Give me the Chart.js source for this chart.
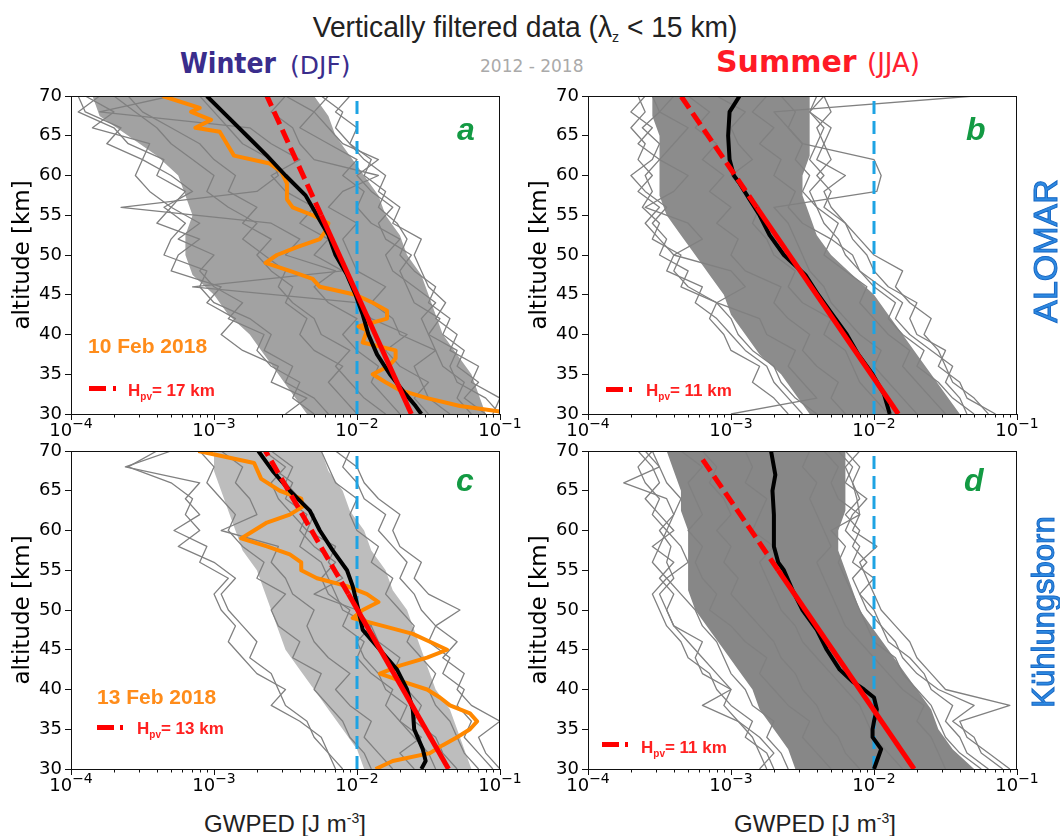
<!DOCTYPE html>
<html>
<head>
<meta charset="utf-8">
<script src="https://cdn.jsdelivr.net/npm/chart.js@4.4.1/dist/chart.umd.min.js"></script>
<style>
  body { margin: 0; background: #fff; }
  #fig { position: relative; width: 1060px; height: 836px; overflow: hidden; }
  canvas { position: absolute; }
  .t { position: absolute; white-space: nowrap; line-height: 1; z-index: 2; }
  .lib { font-family: "Liberation Sans", Arial, sans-serif; }
  .dv { font-family: "DejaVu Sans", sans-serif; }
  .dvc { font-family: "DejaVu Sans Condensed", "DejaVu Sans", sans-serif; }
  .letter { font: italic bold 32px "Liberation Sans", Arial, sans-serif; color: #139a43; }
  .date { font: bold 21px "Liberation Sans", Arial, sans-serif; color: #ff8c1a; }
  .hpv { font: bold 17px "Liberation Sans", Arial, sans-serif; color: #ff2020; }
  .hpv sub { font-size: 10px; vertical-align: -4px; }
  .bar { position: absolute; background: #ff0000; height: 5px; z-index: 2; }
  .xl { font: 24px "Liberation Sans", Arial, sans-serif; color: #222; }
  .xl sup { font-size: 14px; vertical-align: 9px; }
  .site { font-family: "Liberation Sans", Arial, sans-serif; color: #2e8ae2; -webkit-text-stroke: 1px #1667c4;
          transform: translate(-50%, -50%) rotate(-90deg); }
</style>
</head>
<body>
<div id="fig">
  <canvas id="pa" width="530" height="372" style="left:0;top:82px"></canvas>
  <canvas id="pb" width="530" height="372" style="left:517px;top:82px"></canvas>
  <canvas id="pc" width="530" height="372" style="left:0;top:437px"></canvas>
  <canvas id="pd" width="530" height="372" style="left:517px;top:437px"></canvas>

  <div class="t lib" style="left:525px;top:12px;font-size:30px;color:#222;transform:translateX(-50%) scaleX(0.94)">Vertically filtered data (&lambda;<sub style="font-size:15px;vertical-align:-5px">z</sub> &lt; 15 km)</div>
  <div class="t dvc" style="left:180px;top:50px;font-size:28px;font-weight:bold;color:#3a2d8c">Winter</div>
  <div class="t dv" style="left:290px;top:53px;font-size:25px;color:#3a2d8c">(DJF)</div>
  <div class="t dv" style="left:480px;top:58px;font-size:17px;color:#aaaaaa">2012 - 2018</div>
  <div class="t dv" style="left:716px;top:47px;font-size:30px;font-weight:bold;color:#ff1a25">Summer</div>
  <div class="t dv" style="left:867px;top:50px;font-size:26px;color:#ff2030">(JJA)</div>

  <div class="t letter" style="left:457px;top:111px">a</div>
  <div class="t letter" style="left:966px;top:111px">b</div>
  <div class="t letter" style="left:456px;top:462px">c</div>
  <div class="t letter" style="left:964px;top:462px">d</div>

  <div class="t date" style="left:88px;top:334px">10 Feb 2018</div>
  <div class="t date" style="left:97px;top:685px">13 Feb 2018</div>

  <div class="bar" style="left:89px;top:386px;width:17px"></div>
  <div class="bar" style="left:113px;top:386px;width:3px"></div>
  <div class="t hpv" style="left:128px;top:381px">H<sub>pv</sub>= 17 km</div>
  <div class="bar" style="left:606px;top:387px;width:17px"></div>
  <div class="bar" style="left:629px;top:387px;width:3px"></div>
  <div class="t hpv" style="left:646px;top:381px">H<sub>pv</sub>= 11 km</div>
  <div class="bar" style="left:97px;top:725px;width:17px"></div>
  <div class="bar" style="left:120px;top:725px;width:3px"></div>
  <div class="t hpv" style="left:137px;top:719px">H<sub>pv</sub>= 13 km</div>
  <div class="bar" style="left:602px;top:742px;width:17px"></div>
  <div class="bar" style="left:625px;top:742px;width:3px"></div>
  <div class="t hpv" style="left:641px;top:738px">H<sub>pv</sub>= 11 km</div>

  <div class="t xl" style="left:285px;top:810px;transform:translateX(-50%)">GWPED [J m<sup>-3</sup>]</div>
  <div class="t xl" style="left:815px;top:810px;transform:translateX(-50%)">GWPED [J m<sup>-3</sup>]</div>

  <div class="t site" style="left:1045px;top:251px;font-size:34px">ALOMAR</div>
  <div class="t site" style="left:1043px;top:612px;font-size:31px">Kühlungsborn</div>
</div>

<script>
// GWPED values below are log10 exponents, i.e. 10^v J m^-3
const alt = [30, 32, 34, 36, 38, 40, 42, 44, 46, 48, 50, 52, 54, 56, 58, 60, 62, 64, 66, 68, 70];
const altCore = [30, 32.5, 35, 37.5, 40, 42.5, 45, 47.5, 50, 52.5, 55, 57.5, 60, 62.5, 65, 67.5, 70];
const refLevel = 1e-2;

// --- a: winter ALOMAR
const coreA_left  = [-2.35, -2.45, -2.55, -2.65, -2.75, -2.9, -3.0, -3.15, -3.2, -3.2, -3.15, -3.2, -3.25, -3.4, -3.6, -3.8, -3.85];
const coreA_right = [-1.1, -1.15, -1.2, -1.3, -1.4, -1.45, -1.5, -1.55, -1.65, -1.7, -1.8, -1.85, -1.95, -2.05, -2.15, -2.2, -2.3];
const profilesA = [
  [-1.2, -1.3, -1.25, -1.4, -1.45, -1.5, -1.42, -1.6, -1.65, -1.7, -1.62, -1.8, -1.85, -1.75, -1.9, -2.0, -1.85, -2.1, -2.2, -2.3, -2.2],
  [-2.3, -2.45, -2.4, -2.6, -2.7, -2.65, -2.9, -2.8, -3.0, -3.1, -3.0, -3.25, -3.1, -3.3, -3.2, -3.4, -3.35, -3.6, -3.7, -3.95, -3.8],
  [-1.7, -1.8, -1.9, -1.85, -2.0, -2.1, -2.0, -2.2, -2.3, -2.15, -2.5, -2.4, -2.6, -3.65, -2.7, -2.55, -2.6, -2.8, -2.9, -3.0, -3.1],
  [-1.0, -1.1, -1.3, -1.35, -1.3, -1.5, -1.55, -1.45, -1.6, -1.75, -1.8, -1.7, -1.9, -2.0, -1.95, -2.1, -2.0, -2.2, -2.4, -2.3, -2.5],
  [-2.0, -2.1, -2.2, -2.1, -2.3, -2.4, -2.35, -2.5, -2.45, -2.6, -2.7, -2.6, -2.8, -2.7, -2.9, -2.85, -3.0, -3.1, -3.3, -3.5, -3.6],
  [-1.5, -1.6, -1.5, -1.7, -1.8, -1.65, -1.9, -2.0, -3.15, -2.1, -2.3, -2.2, -2.4, -2.3, -2.5, -2.6, -2.4, -2.6, -2.75, -3.8, -3.3],
  [-1.35, -1.5, -1.55, -1.6, -1.45, -1.7, -1.75, -1.9, -1.8, -2.0, -2.05, -2.1, -2.0, -2.2, -2.1, -1.85, -2.3, -2.4, -2.45, -2.6, -2.5],
  [-1.8, -1.95, -2.05, -2.15, -2.05, -2.25, -2.3, -2.45, -2.55, -2.5, -2.65, -2.8, -2.7, -2.9, -3.05, -3.0, -3.15, -3.3, -3.4, -3.55, -3.7],
  [-2.5, -2.35, -2.6, -2.55, -2.8, -2.95, -2.85, -3.05, -2.95, -3.3, -3.25, -3.1, -3.4, -3.3, -3.45, -3.55, -3.5, -3.75, -3.65, -3.9, -3.95],
  [-2.2, -2.3, -2.5, -2.45, -2.65, -2.6, -2.75, -3.0, -3.1, -3.05, -3.35, -3.3, -3.2, -3.35, -3.15, -3.3, -3.5, -3.45, -3.85, -3.7, -3.9],
  [-1.05, -1.0, -1.2, -1.15, -1.35, -1.3, -1.45, -1.38, -1.5, -1.55, -1.6, -1.55, -1.75, -1.7, -1.85, -1.8, -1.95, -2.05, -2.0, -2.15, -2.05],
  [-1.1, -1.25, -1.15, -1.3, -1.25, -1.4, -1.35, -1.5, -1.45, -1.6, -1.7, -1.65, -1.72, -1.85, -1.8, -1.95, -1.9, -2.05, -2.15, -2.1, -2.25]
];
const meanA_alt = [30, 31, 32.5, 35, 37.5, 40, 42.5, 45, 47.5, 50, 52.5, 55, 57.5, 60, 62.5, 65, 67.5, 70];
const meanA = [-1.55, -1.59, -1.66, -1.77, -1.86, -1.92, -1.96, -2.01, -2.07, -2.15, -2.2, -2.28, -2.36, -2.5, -2.63, -2.77, -2.91, -3.05];
const fitA_alt = [30, 55, 70];
const fitA = [-1.62, -2.25, -2.63];
const orangeA_alt = [70, 68.5, 68, 67, 66, 65.5, 64, 62.5, 61.5, 60.5, 59, 57, 56, 55, 54, 53, 52, 51, 50, 49,
                     48, 47, 46, 45, 44, 43, 42, 41, 40.5, 39, 38, 37, 36, 35, 34, 33, 32, 31, 30.3];
const orangeA = [-3.36, -3.1, -3.16, -3.02, -3.13, -2.96, -2.91, -2.86, -2.61, -2.53, -2.49, -2.49, -2.45, -2.31, -2.2, -2.22, -2.26, -2.42, -2.56, -2.64,
                 -2.47, -2.31, -2.26, -2.01, -1.89, -1.79, -1.79, -1.99, -1.93, -1.96, -1.73, -1.73, -1.78, -1.89, -1.8, -1.7, -1.51, -1.28, -1.0];

// --- b: summer ALOMAR
const coreB_left  = [-2.45, -2.55, -2.65, -2.8, -2.9, -3.0, -3.05, -3.15, -3.25, -3.35, -3.45, -3.5, -3.5, -3.5, -3.5, -3.55, -3.55];
const coreB_right = [-1.4, -1.5, -1.6, -1.7, -1.8, -1.9, -2.0, -2.15, -2.3, -2.4, -2.45, -2.5, -2.5, -2.45, -2.45, -2.45, -2.45];
const profilesB = [
  [-1.2, -1.3, -1.45, -1.5, -1.55, -1.65, -1.6, -1.75, -1.85, -1.8, -2.0, -2.1, -2.2, -2.3, -2.35, -2.2, -2.4, -2.35, -2.3, -2.45, -2.35],
  [-2.6, -2.7, -2.85, -2.8, -3.0, -3.05, -3.15, -3.1, -3.3, -3.4, -3.35, -3.55, -3.5, -3.62, -3.55, -3.6, -3.5, -3.65, -3.55, -3.7, -3.6],
  [-1.7, -1.8, -1.9, -2.0, -1.95, -2.1, -2.2, -2.3, -2.35, -2.45, -2.5, -2.55, -2.6, -2.7, -1.98, -1.95, -2.0, -2.5, -2.6, -2.7, -1.3],
  [-2.2, -2.3, -2.25, -2.4, -2.5, -2.45, -2.6, -2.7, -2.65, -2.9, -3.0, -2.95, -3.1, -3.0, -3.15, -3.05, -3.2, -3.1, -3.25, -3.15, -3.3],
  [-1.5, -1.6, -1.7, -1.8, -1.75, -1.9, -2.0, -2.1, -2.05, -2.2, -2.35, -2.3, -2.5, -2.6, -2.55, -2.7, -2.65, -2.8, -2.7, -2.85, -2.75],
  [-3.0, -2.4, -2.5, -2.6, -2.55, -2.75, -2.8, -3.1, -2.9, -3.0, -3.4, -3.2, -3.3, -3.6, -3.4, -3.3, -3.5, -3.4, -3.3, -3.5, -3.4],
  [-1.9, -2.0, -2.1, -2.15, -2.2, -2.35, -2.3, -2.5, -2.6, -2.55, -2.7, -2.75, -2.85, -2.8, -2.9, -3.0, -2.85, -2.95, -3.0, -2.9, -3.1],
  [-1.3, -1.45, -1.55, -1.7, -1.65, -1.8, -1.9, -1.85, -2.0, -2.1, -2.2, -2.25, -2.35, -2.4, -2.5, -2.45, -2.55, -2.5, -2.6, -2.55, -2.65],
  [-2.5, -2.6, -2.7, -2.75, -2.9, -3.0, -3.1, -3.25, -3.2, -3.45, -3.4, -3.5, -3.6, -3.5, -3.65, -3.55, -3.65, -3.6, -3.7, -3.6, -3.65],
  [-2.4, -2.55, -2.65, -2.7, -2.85, -2.95, -3.0, -3.1, -3.35, -3.3, -3.5, -3.45, -3.55, -3.45, -3.6, -3.7, -3.55, -3.5, -3.62, -3.5, -3.55],
  [-1.15, -1.35, -1.4, -1.55, -1.5, -1.7, -1.75, -1.7, -1.9, -2.0, -2.05, -2.15, -2.2, -2.35, -2.3, -2.4, -2.3, -2.35, -2.4, -2.3, -2.35],
  [-1.35, -1.4, -1.5, -1.45, -1.6, -1.75, -1.85, -1.8, -1.95, -2.1, -2.15, -2.3, -2.25, -2.4, -2.45, -2.35, -2.45, -2.4, -2.35, -2.45, -2.4]
];
const meanB_alt = [30, 32.5, 35, 37.5, 40, 42.5, 45, 47.5, 50, 52.5, 55, 57, 59, 60, 62, 65, 68, 70];
const meanB = [-1.89, -1.93, -2.01, -2.11, -2.19, -2.29, -2.39, -2.48, -2.63, -2.73, -2.8, -2.87, -2.94, -2.98, -3.01, -3.02, -3.01, -2.94];
const fitB_alt = [30, 56, 70];
const fitB = [-1.83, -2.82, -3.35];

// --- c: winter Kuehlungsborn
const coreC_left  = [-1.95, -2.0, -2.1, -2.2, -2.3, -2.4, -2.5, -2.55, -2.6, -2.65, -2.7, -2.8, -2.85, -2.9, -2.95, -3.0, -3.0];
const coreC_right = [-1.2, -1.25, -1.3, -1.35, -1.45, -1.5, -1.55, -1.6, -1.65, -1.75, -1.8, -1.9, -1.95, -2.05, -2.1, -2.2, -2.25];
const profilesC = [
  [-1.0, -1.1, -1.15, -1.0, -1.2, -1.3, -1.25, -1.4, -1.3, -1.45, -1.28, -1.5, -1.6, -1.55, -1.7, -1.75, -1.7, -1.85, -1.95, -2.0, -2.15],
  [-2.15, -2.2, -2.3, -2.35, -2.5, -2.55, -2.6, -2.75, -2.7, -2.8, -2.9, -2.95, -2.85, -3.0, -3.25, -3.1, -3.2, -3.15, -3.3, -3.6, -3.4],
  [-1.6, -1.7, -1.55, -1.7, -1.8, -1.75, -1.9, -2.0, -1.95, -2.1, -2.05, -2.2, -2.25, -2.15, -2.3, -2.4, -2.35, -2.5, -2.45, -2.6, -2.7],
  [-1.3, -1.4, -1.45, -1.6, -1.55, -1.65, -1.75, -1.7, -1.85, -1.9, -2.0, -2.3, -2.1, -2.2, -2.15, -2.35, -2.3, -2.4, -2.5, -2.45, -2.6],
  [-1.9, -1.95, -2.05, -2.1, -2.2, -2.3, -2.25, -2.45, -2.4, -2.55, -2.6, -2.5, -2.7, -2.65, -2.8, -2.9, -2.85, -2.95, -3.05, -3.0, -3.1],
  [-1.15, -1.25, -1.3, -1.35, -1.45, -1.5, -1.45, -1.55, -1.65, -1.6, -1.7, -1.8, -1.75, -1.9, -1.85, -2.0, -2.05, -2.0, -2.15, -2.2, -2.25],
  [-1.75, -1.85, -1.95, -1.9, -2.05, -2.15, -2.05, -2.2, -2.3, -2.35, -2.3, -2.45, -2.5, -2.6, -2.55, -2.95, -2.7, -2.75, -2.85, -2.8, -2.95],
  [-1.45, -1.5, -1.6, -1.7, -1.65, -1.8, -1.85, -1.95, -2.0, -1.9, -2.1, -2.15, -2.2, -2.25, -2.4, -2.35, -2.45, -2.55, -2.6, -2.5, -2.65],
  [-2.1, -2.2, -2.25, -2.4, -2.6, -2.5, -2.7, -2.8, -2.9, -2.85, -2.95, -3.0, -2.9, -3.1, -3.05, -3.28, -3.1, -3.2, -3.1, -3.62, -3.3],
  [-1.05, -1.15, -1.25, -1.2, -1.3, -1.25, -1.4, -1.35, -1.5, -1.45, -1.55, -1.6, -1.7, -1.65, -1.75, -1.85, -1.8, -1.95, -2.0, -2.1, -2.05]
];
const meanC_alt = [30, 31, 32.5, 35, 37.5, 40, 42.5, 45, 47.5, 50, 53, 55, 57.5, 60, 62.5, 65, 67.5, 70];
const meanC = [-1.55, -1.52, -1.54, -1.6, -1.61, -1.65, -1.72, -1.84, -1.96, -1.99, -2.03, -2.07, -2.17, -2.26, -2.33, -2.47, -2.59, -2.69];
const fitC_alt = [30, 52, 70];
const fitC = [-1.36, -2.06, -2.64];
const orangeC_alt = [70, 68.5, 66.5, 65, 64, 63, 62, 61, 60, 59, 58, 57, 56, 55, 54, 53, 52, 51, 50, 49,
                     48, 47, 46, 45, 44, 43, 42, 41, 40, 39, 38, 37, 36, 35, 34, 33, 32, 31, 30];
const orangeC = [-3.11, -2.72, -2.67, -2.54, -2.39, -2.38, -2.47, -2.63, -2.72, -2.81, -2.63, -2.47, -2.39, -2.39, -2.28, -2.07, -1.93, -1.85, -1.96, -2.03,
                 -1.82, -1.61, -1.49, -1.37, -1.51, -1.7, -1.84, -1.68, -1.51, -1.42, -1.35, -1.21, -1.16, -1.21, -1.3, -1.4, -1.49, -1.75, -1.87];

// --- d: summer Kuehlungsborn
const coreD_left  = [-2.55, -2.6, -2.7, -2.8, -2.85, -2.95, -3.05, -3.15, -3.25, -3.3, -3.3, -3.3, -3.3, -3.35, -3.35, -3.4, -3.45];
const coreD_right = [-1.3, -1.45, -1.55, -1.6, -1.7, -1.8, -1.9, -2.0, -2.1, -2.15, -2.2, -2.25, -2.25, -2.2, -2.2, -2.2, -2.2];
const profilesD = [
  [-1.05, -1.2, -1.35, -1.4, -1.05, -1.5, -1.6, -1.7, -1.75, -1.85, -1.95, -2.0, -2.05, -2.1, -1.98, -2.15, -2.1, -2.12, -2.15, -2.1, -2.2],
  [-2.75, -2.8, -2.85, -2.95, -3.2, -3.0, -3.1, -3.2, -3.3, -3.4, -3.45, -3.5, -3.4, -3.45, -3.42, -3.5, -3.4, -3.45, -3.75, -3.5, -3.6],
  [-1.5, -1.55, -1.6, -1.7, -1.65, -1.8, -1.9, -2.0, -2.1, -2.2, -2.25, -2.3, -2.35, -2.4, -2.3, -2.35, -2.4, -2.45, -2.4, -2.5, -2.45],
  [-2.3, -2.4, -2.5, -2.45, -2.6, -2.7, -2.8, -2.75, -2.9, -3.0, -3.15, -3.1, -3.2, -3.25, -3.2, -3.3, -3.2, -3.25, -3.3, -3.2, -3.35],
  [-1.8, -1.9, -2.0, -2.05, -2.1, -2.2, -2.3, -2.4, -2.5, -2.55, -2.65, -2.7, -2.75, -2.8, -2.7, -2.85, -2.8, -2.75, -2.9, -2.85, -2.9],
  [-1.25, -1.4, -1.5, -1.55, -1.6, -1.7, -1.8, -1.85, -2.0, -2.05, -2.1, -2.15, -2.2, -2.25, -2.2, -2.3, -2.1, -2.25, -2.3, -2.25, -2.35],
  [-2.1, -2.2, -2.25, -2.35, -2.4, -2.5, -2.55, -2.65, -2.7, -2.8, -2.9, -3.0, -2.95, -3.05, -3.0, -3.1, -3.0, -3.05, -3.15, -3.1, -3.2],
  [-2.6, -2.65, -2.75, -2.7, -2.85, -2.9, -3.0, -3.05, -3.1, -3.2, -3.25, -3.35, -3.45, -3.3, -3.35, -3.45, -3.4, -3.35, -3.45, -3.5, -3.55],
  [-2.7, -2.75, -2.9, -2.85, -3.0, -3.1, -3.15, -3.3, -3.35, -3.45, -3.5, -3.55, -3.45, -3.55, -3.5, -3.45, -3.55, -3.5, -3.6, -3.65, -3.55],
  [-2.8, -2.7, -2.8, -2.95, -3.05, -3.0, -3.2, -3.25, -3.2, -3.4, -3.45, -3.4, -3.5, -3.4, -3.55, -3.4, -3.5, -3.6, -3.5, -3.55, -3.65],
  [-1.1, -1.25, -1.3, -1.45, -1.3, -1.55, -1.7, -1.8, -1.85, -1.95, -2.0, -2.1, -2.15, -2.05, -2.15, -2.1, -2.2, -2.1, -2.15, -2.2, -2.1],
  [-1.2, -1.35, -1.4, -1.5, -1.45, -1.6, -1.65, -1.75, -1.9, -1.95, -2.05, -2.1, -2.0, -2.15, -2.1, -2.2, -2.15, -2.05, -2.2, -2.15, -2.25]
];
const meanD_alt = [30, 31, 32.5, 34, 35, 36, 37.5, 39, 40, 41, 42.5, 45, 47.5, 50, 52.5, 55, 56, 58, 60, 62, 65, 67, 70];
const meanD = [-2.0, -1.98, -1.95, -2.01, -2.01, -2.0, -1.98, -2.0, -2.07, -2.15, -2.24, -2.33, -2.4, -2.5, -2.57, -2.63, -2.67, -2.7, -2.7, -2.7, -2.71, -2.69, -2.72];
const fitD_alt = [30, 55, 69.5];
const fitD = [-1.72, -2.67, -3.22];

Chart.defaults.font.family = '"DejaVu Sans", sans-serif';
Chart.defaults.color = '#000';

function pts(alts, logs) {
  return alts.map((h, i) => ({ x: Math.pow(10, logs[i]), y: h }));
}

// frame, log ticks and 10^n labels, matplotlib style
const axesExtras = {
  id: 'axesExtras',
  afterDraw(chart) {
    const { ctx, chartArea: a, scales: { x } } = chart;
    ctx.save();
    ctx.strokeStyle = '#111';
    ctx.lineWidth = 1;
    ctx.strokeRect(a.left + 0.5, a.top + 0.5, a.width - 1, a.height);
    for (let p = -4; p <= -1; p++) {
      for (let k = 1; k <= 9; k++) {
        if (p === -1 && k > 1) break;
        const px = Math.round(x.getPixelForValue(k * Math.pow(10, p))) + 0.5;
        ctx.beginPath();
        ctx.moveTo(px, a.bottom);
        ctx.lineTo(px, a.bottom + (k === 1 ? 6 : 3.5));
        ctx.stroke();
      }
      const cx = x.getPixelForValue(Math.pow(10, p));
      ctx.font = '18px "DejaVu Sans"';
      const w1 = ctx.measureText('10').width;
      ctx.font = '14px "DejaVu Sans"';
      const exp = '\u2212' + Math.abs(p);
      const w2 = ctx.measureText(exp).width;
      const x0 = cx - (w1 + w2) / 2;
      ctx.fillStyle = '#000';
      ctx.textBaseline = 'alphabetic';
      ctx.textAlign = 'left';
      ctx.font = '18px "DejaVu Sans"';
      ctx.fillText('10', x0, a.bottom + 22);
      ctx.font = '14px "DejaVu Sans"';
      ctx.fillText(exp, x0 + w1, a.bottom + 14);
    }
    ctx.restore();
  }
};

function panel(id, o) {
  const ds = [];
  ds.push({
    data: pts(altCore.concat(altCore.slice().reverse()), o.coreL.concat(o.coreR.slice().reverse())),
    fill: 'shape', backgroundColor: o.coreColor, borderWidth: 0, order: 100
  });
  o.profiles.forEach((p) => {
    ds.push({ data: pts(alt, p), borderColor: '#808080', borderWidth: 1.3, order: 50 });
  });
  ds.push({
    data: [{ x: refLevel, y: 30 }, { x: refLevel, y: 70 }],
    borderColor: '#1ea3e3', borderWidth: 3, borderDash: [13, 7], order: 4
  });
  if (o.orangeAlt) {
    ds.push({ data: pts(o.orangeAlt, o.orange), borderColor: '#ff8800', borderWidth: 4, order: 3 });
  }
  ds.push({ data: pts(o.meanAlt, o.mean), borderColor: '#000', borderWidth: 4, order: 2 });
  ds.push({
    data: pts(o.fitAlt, o.fit), borderColor: '#ff0000', borderWidth: 5, order: 1,
    segment: { borderDash: (c) => (c.p0DataIndex >= 1 ? [14, 6] : undefined) }
  });

  new Chart(document.getElementById(id), {
    type: 'line',
    data: { datasets: ds },
    options: {
      responsive: false,
      animation: false,
      events: [],
      devicePixelRatio: 1,
      layout: { padding: { top: 14, right: 30, left: 0, bottom: 0 } },
      elements: {
        point: { radius: 0 },
        line: { borderJoinStyle: 'round', tension: 0 }
      },
      plugins: { legend: { display: false }, tooltip: { enabled: false } },
      scales: {
        x: {
          type: 'logarithmic', min: 1e-4, max: 1e-1,
          ticks: { display: false },
          grid: { display: false },
          border: { display: false },
          afterFit: (s) => { s.height = 40; }
        },
        y: {
          type: 'linear', min: 30, max: 70,
          ticks: { stepSize: 5, padding: 3, font: { size: 18 }, color: '#000' },
          grid: { drawOnChartArea: false, tickLength: 6, color: '#111' },
          border: { display: false },
          title: { display: true, text: 'altitude [km]', font: { size: 23 }, color: '#000', padding: { top: 9, bottom: 0 } },
          afterFit: (s) => { s.width = 71; }
        }
      }
    },
    plugins: [axesExtras]
  });
}

panel('pa', { coreL: coreA_left, coreR: coreA_right, coreColor: '#a2a2a2', profiles: profilesA,
  meanAlt: meanA_alt, mean: meanA, fitAlt: fitA_alt, fit: fitA, orangeAlt: orangeA_alt, orange: orangeA });
panel('pb', { coreL: coreB_left, coreR: coreB_right, coreColor: '#8c8c8c', profiles: profilesB,
  meanAlt: meanB_alt, mean: meanB, fitAlt: fitB_alt, fit: fitB });
panel('pc', { coreL: coreC_left, coreR: coreC_right, coreColor: '#bdbdbd', profiles: profilesC,
  meanAlt: meanC_alt, mean: meanC, fitAlt: fitC_alt, fit: fitC, orangeAlt: orangeC_alt, orange: orangeC });
panel('pd', { coreL: coreD_left, coreR: coreD_right, coreColor: '#878787', profiles: profilesD,
  meanAlt: meanD_alt, mean: meanD, fitAlt: fitD_alt, fit: fitD });
</script>
</body>
</html>
